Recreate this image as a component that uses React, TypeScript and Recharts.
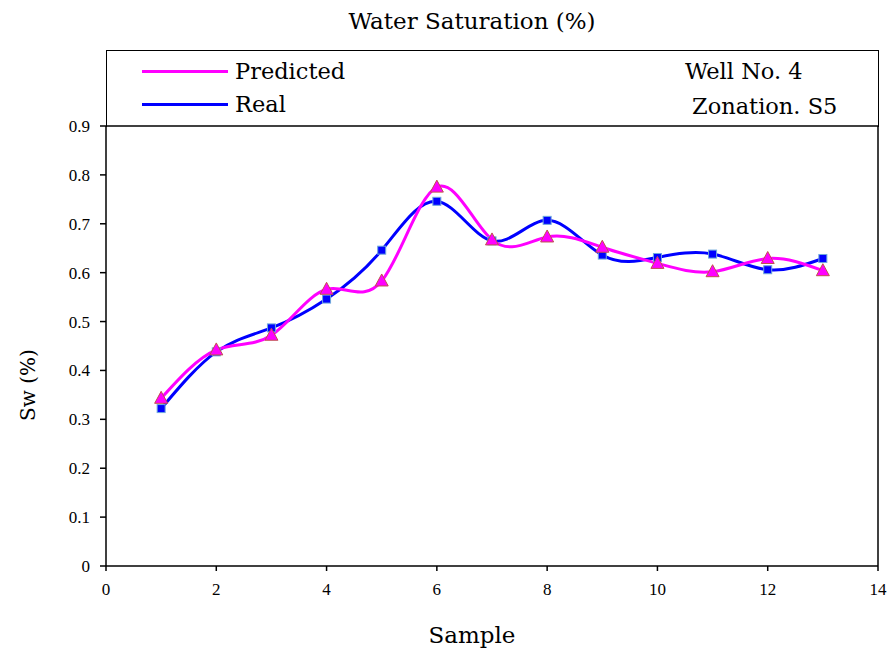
import { LineChart, Line, XAxis, YAxis, ReferenceLine } from 'recharts';

const samples = [1, 2, 3, 4, 5, 6, 7, 8, 9, 10, 11, 12, 13];
const predicted = [0.343, 0.442, 0.472, 0.566, 0.583, 0.775, 0.667, 0.673, 0.652, 0.619, 0.602, 0.629, 0.604];
const real = [0.322, 0.438, 0.487, 0.546, 0.646, 0.746, 0.665, 0.707, 0.636, 0.631, 0.638, 0.606, 0.629];
const xTicks = [0, 2, 4, 6, 8, 10, 12, 14];
const yTicks = [0, 0.1, 0.2, 0.3, 0.4, 0.5, 0.6, 0.7, 0.8, 0.9];

const data = samples.map((s, i) => ({ sample: s, predicted: predicted[i], real: real[i] }));

const font = '"DejaVu Serif", serif';
const tickFont = '"Liberation Serif", serif';

const Square = (props: any) => {
  const { cx, cy, index } = props;
  return <rect key={'sq' + index} x={cx - 4} y={cy - 4} width={8} height={8} fill="#0000ff" stroke="#6fa8dc" strokeWidth={1} />;
};

const Triangle = (props: any) => {
  const { cx, cy, index } = props;
  const p = `${cx},${cy - 7} ${cx - 6.5},${cy + 5} ${cx + 6.5},${cy + 5}`;
  return <polygon key={'tr' + index} points={p} fill="#ff00ff" stroke="#c0504d" strokeWidth={1} />;
};

export default function App() {
  return (
    <div style={{ position: 'absolute', left: 0, top: 0, width: 889, height: 655, background: '#fff', fontFamily: font, color: '#000' }}>
      <div style={{ position: 'absolute', top: 8, left: 0, width: 944, textAlign: 'center', fontSize: 23 }}>
        Water Saturation (%)
      </div>
      {/* legend box above the plot */}
      <div style={{ position: 'absolute', left: 106, top: 50, width: 771, height: 76, borderLeft: '1.5px solid #000', borderTop: '1.5px solid #000', borderRight: '1.5px solid #000' }} />
      <div style={{ position: 'absolute', left: 142, top: 70, width: 86, height: 3, background: '#ff00ff' }} />
      <div style={{ position: 'absolute', left: 235, top: 58, fontSize: 22.5 }}>Predicted</div>
      <div style={{ position: 'absolute', left: 142, top: 103, width: 86, height: 3, background: '#0000ff' }} />
      <div style={{ position: 'absolute', left: 235, top: 91, fontSize: 22.5 }}>Real</div>
      <div style={{ position: 'absolute', left: 685, top: 58, fontSize: 22.5 }}>Well No. 4</div>
      <div style={{ position: 'absolute', left: 692, top: 93, fontSize: 22.5 }}>Zonation. S5</div>
      <div style={{ position: 'absolute', left: 28, top: 385, width: 0, height: 0 }}>
        <div style={{ position: 'absolute', transform: 'translate(-50%, -50%) rotate(-90deg)', whiteSpace: 'nowrap', fontSize: 20 }}>Sw (%)</div>
      </div>
      <div style={{ position: 'absolute', left: 0, top: 622, width: 944, textAlign: 'center', fontSize: 23 }}>Sample</div>
      <LineChart width={889} height={655} data={data} margin={{ top: 126, right: 11, left: 0, bottom: 0 }}>
        <XAxis
          dataKey="sample"
          type="number"
          domain={[0, 14]}
          ticks={xTicks}
          height={89}
          stroke="#000"
          strokeWidth={1.5}
          tickSize={5}
          tickMargin={12}
          tick={{ fill: '#000', fontSize: 17, fontFamily: tickFont }}
        />
        <YAxis
          type="number"
          domain={[0, 0.9]}
          ticks={yTicks}
          width={106}
          stroke="#000"
          strokeWidth={1.5}
          tickSize={6}
          tickMargin={10}
          tickFormatter={(v) => String(v)}
          tick={{ fill: '#000', fontSize: 17, fontFamily: tickFont }}
        />
        <ReferenceLine y={0.9} stroke="#000" strokeWidth={1.5} />
        <ReferenceLine x={14} stroke="#000" strokeWidth={1.5} />
        <Line type="natural" dataKey="real" stroke="#0000ff" strokeWidth={3} dot={Square} activeDot={false} isAnimationActive={false} />
        <Line type="natural" dataKey="predicted" stroke="#ff00ff" strokeWidth={3} dot={Triangle} activeDot={false} isAnimationActive={false} />
      </LineChart>
    </div>
  );
}
